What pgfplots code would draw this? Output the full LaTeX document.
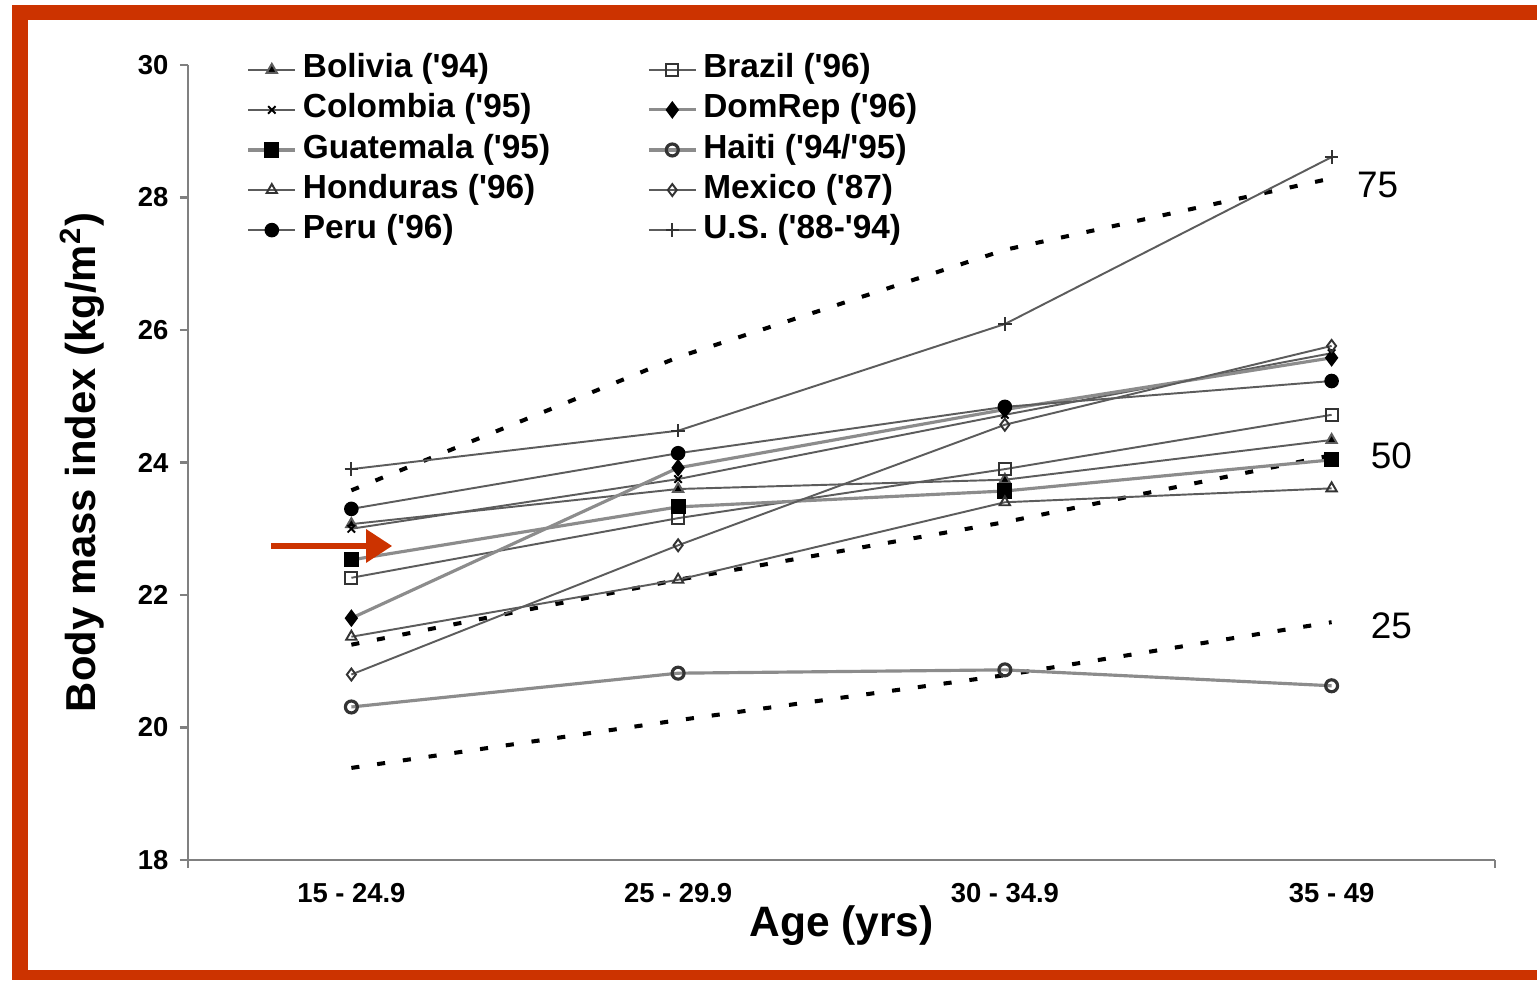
\documentclass[border=0pt]{standalone}
\usepackage{pgfplots}
\pgfplotsset{compat=1.18}
\usepackage{fontspec}
\setmainfont{Liberation Sans}
\usetikzlibrary{arrows.meta}

\definecolor{frame}{HTML}{CC3300}
\definecolor{axisgray}{HTML}{808080}
\definecolor{linegray}{HTML}{5C5C5C}
\definecolor{lightline}{HTML}{8C8C8C}

\newcommand{\q}{\textquotesingle}

% legend sample: short line with the mark in its middle
\pgfplotsset{
  short legend/.style={
    legend image code/.code={
      \draw[##1,mark=none] (0mm,0mm) -- (4.7mm,0mm);
      \draw[##1,only marks] plot coordinates {(2.35mm,0mm)};
    }
  },
  country/.style={linegray, line width=0.55pt, mark options={solid, line width=0.5pt}},
  country2/.style={lightline, line width=0.9pt, mark options={solid, line width=0.5pt}},
  pct/.style={black, line width=1.15pt, dash pattern=on 2.3pt off 5.1pt, forget plot},
}

\begin{document}
\begin{tikzpicture}
\useasboundingbox (0,0) rectangle (153.7mm,98mm);
\fill[white] (0,0) rectangle (153.7mm,98mm);
% frame
\fill[frame] (1.2mm,96.0mm) rectangle (153.7mm,97.5mm);
\fill[frame] (1.2mm,0mm) rectangle (2.8mm,97.5mm);
\fill[frame] (1.2mm,0mm) rectangle (153.7mm,1.0mm);

\begin{axis}[
  at={(18.8mm,12mm)}, anchor=south west,
  scale only axis, width=130.7mm, height=79.5mm,
  xmin=-0.5, xmax=3.5, ymin=18, ymax=30,
  axis lines=left,
  axis line style={-, draw=axisgray, line width=0.6pt},
  tick align=outside,
  major tick length=0.8mm,
  tick style={draw=axisgray, line width=0.6pt},
  ytick={18,20,...,30},
  xtick={0,1,2,3},
  xticklabels={15 - 24.9, 25 - 29.9, 30 - 34.9, 35 - 49},
  x tick style={draw=none},
  ticklabel style={font=\bfseries\fontsize{7.8}{9}\selectfont},
  /pgf/number format/assume math mode=true,
  xticklabel style={anchor=center, yshift=-2.5mm},
  yticklabel style={anchor=east, inner sep=0pt, xshift=-1.1mm},
  ylabel={Body mass index (kg/m\textsuperscript{2})},
  ylabel style={at={(axis description cs:-0.081,0.5)}, anchor=center,
    font=\bfseries\fontsize{11.9}{14}\selectfont},
  xlabel={Age (yrs)},
  xlabel style={at={(axis description cs:0.5,-0.082)}, anchor=center,
    font=\bfseries\fontsize{12.1}{14}\selectfont},
  clip=false,
  short legend,
  legend columns=2,
  legend style={
    at={(rel axis cs:0.0444,1.020)}, anchor=north west,
    draw=none, fill=none, inner sep=0pt,
    font=\bfseries\fontsize{9.5}{11}\selectfont,
    cells={anchor=west},
    nodes={inner sep=0pt, text height=8pt, text depth=3.4pt},
    /tikz/every odd column/.append style={column sep=0.6mm},
    /tikz/column 2/.append style={column sep=9.7mm},
  },
]

% percentile reference curves (25th, 50th, 75th)
\addplot[pct] coordinates {(0,19.39) (1,20.11) (2,20.79) (3,21.59)};
\addplot[pct] coordinates {(0,21.25) (1,22.23) (2,23.10) (3,24.11)};
\addplot[pct] coordinates {(0,23.58) (1,25.59) (2,27.21) (3,28.29)};

% countries, in legend order (row by row)
\addplot[country, mark=triangle*, mark size=1.7pt, mark options={fill=black}]
  coordinates {(0,23.07) (1,23.60) (2,23.74) (3,24.34)};
\addlegendentry{Bolivia (\q94)}
\addplot[country, mark=square, mark size=1.7pt, mark options={fill=white, draw=black!80}]
  coordinates {(0,22.26) (1,23.16) (2,23.90) (3,24.72)};
\addlegendentry{Brazil (\q96)}
\addplot[country, mark=x, mark size=1.5pt, mark options={draw=black}]
  coordinates {(0,23.00) (1,23.75) (2,24.72) (3,25.65)};
\addlegendentry{Colombia (\q95)}
\addplot[country2, mark=diamond*, mark size=1.8pt, mark options={fill=black, draw=black}]
  coordinates {(0,21.65) (1,23.92) (2,24.80) (3,25.58)};
\addlegendentry{DomRep (\q96)}
\addplot[country2, mark=square*, mark size=1.7pt, mark options={fill=black, draw=black}]
  coordinates {(0,22.53) (1,23.33) (2,23.57) (3,24.04)};
\addlegendentry{Guatemala (\q95)}
\addplot[country2, mark=o, mark size=1.7pt, mark options={fill=white, draw=black!80}]
  coordinates {(0,20.31) (1,20.82) (2,20.87) (3,20.63)};
\addlegendentry{Haiti (\q94/\q95)}
\addplot[country, mark=triangle, mark size=1.7pt, mark options={fill=white, draw=black!80}]
  coordinates {(0,21.37) (1,22.23) (2,23.40) (3,23.61)};
\addlegendentry{Honduras (\q96)}
\addplot[country, mark=diamond, mark size=1.7pt, mark options={fill=white, draw=black!80}]
  coordinates {(0,20.80) (1,22.75) (2,24.57) (3,25.76)};
\addlegendentry{Mexico (\q87)}
\addplot[country, mark=*, mark size=1.8pt, mark options={fill=black, draw=black}]
  coordinates {(0,23.30) (1,24.14) (2,24.84) (3,25.23)};
\addlegendentry{Peru (\q96)}
\addplot[country, mark=+, mark size=1.9pt, mark options={draw=black!80}]
  coordinates {(0,23.90) (1,24.48) (2,26.09) (3,28.61)};
\addlegendentry{U.S. (\q88-\q94)}

% end ticks of the age axis
\draw[axisgray, line width=0.6pt] (axis cs:-0.5,18) -- ([yshift=-0.8mm]axis cs:-0.5,18);
\draw[axisgray, line width=0.6pt] (axis cs:3.5,18) -- ([yshift=-0.8mm]axis cs:3.5,18);

% percentile labels
\node[font=\fontsize{10.5}{12}\selectfont] at (axis cs:3.141,28.19) {75};
\node[font=\fontsize{10.5}{12}\selectfont] at (axis cs:3.183,24.10) {50};
\node[font=\fontsize{10.5}{12}\selectfont] at (axis cs:3.183,21.53) {25};

% pointer
\draw[frame, line width=0.6mm, -{Triangle[length=2.6mm, width=3.2mm]}]
  (axis cs:-0.245,22.74) -- (axis cs:0.125,22.74);
\end{axis}
\end{tikzpicture}
\end{document}
